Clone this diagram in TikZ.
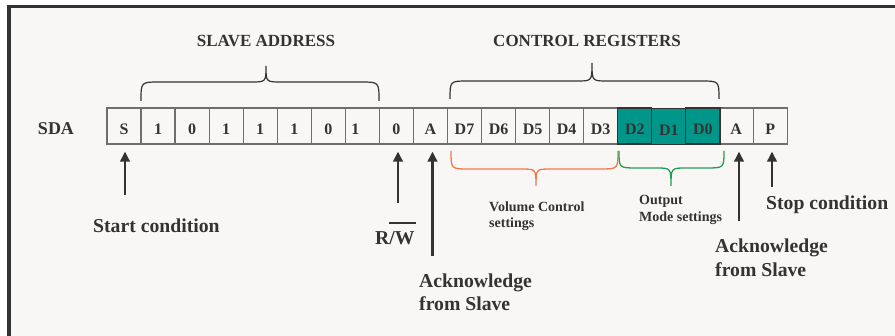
\documentclass[tikz,border=0pt]{standalone}
\usepackage{fontspec}
\setmainfont{Liberation Serif}
\usetikzlibrary{arrows.meta}

\definecolor{ink}{HTML}{333333}
\definecolor{paper}{HTML}{F8F7F5}
\definecolor{cellline}{HTML}{6E6E6E}
\definecolor{regteal}{HTML}{00968A}
\definecolor{volorange}{HTML}{F07A4A}
\definecolor{modegreen}{HTML}{1EA052}

% curly brace: style, x-left, x-right, x-tip, y-ends, y-flat, y-tip
\newcommand\curlybrace[7]{%
  \draw[#1] (#2,#5) .. controls (#2,#6) .. ({#2+18},#6) -- ({#4-15},#6)
    .. controls (#4,#6) .. (#4,#7) .. controls (#4,#6) .. ({#4+15},#6)
    -- ({#3-18},#6) .. controls (#3,#6) .. (#3,#5);}

\tikzset{
  cell/.style={draw=cellline, line width=1.2pt, minimum width=34.05pt,
    minimum height=36pt, inner sep=0pt, text height=18pt, text depth=0pt,
    text=ink, font=\fontsize{16}{19}\selectfont\bfseries},
  regcell/.style={cell, fill=regteal, draw=ink},
  head/.style={text=ink, inner sep=0pt, anchor=base,
    font=\fontsize{17}{20}\selectfont\bfseries},
  biglabel/.style={text=ink, inner sep=0pt, anchor=base west, align=left,
    font=\fontsize{19.7}{23.5}\selectfont\bfseries},
  smalllabel/.style={text=ink, inner sep=0pt, anchor=base west, align=left,
    font=\fontsize{14}{16}\selectfont\bfseries},
  uparrow/.style={draw=ink, line width=2.3pt,
    -{Triangle[width=9.5pt,length=10pt]}, shorten >=7pt},
  bracestyle/.style={draw=ink, line width=1.2pt},
}

\begin{document}
\begin{tikzpicture}[x=1pt,y=-1pt]
\useasboundingbox (0,0) rectangle (895,336);
\fill[white] (0,0) rectangle (895,336);
\fill[paper] (9,6.5) rectangle (895,336);
\draw[ink, line width=3.5pt] (9,336) -- (9,6.5) -- (895,6.5);

% frame of the SDA bit sequence
\node[cell] (cS)  at (124.0,126) {S};
\node[cell] (a1)  at (158.1,126) {1};
\node[cell] (a2)  at (192.1,126) {0};
\node[cell] (a3)  at (226.2,126) {1};
\node[cell] (a4)  at (260.2,126) {1};
\node[cell] (a5)  at (294.3,126) {1};
\node[cell] (a6)  at (328.3,126) {0};
\node[cell] (a7)  at (362.4,126) {1\kern14pt};
\node[cell] (cRW) at (396.4,126) {0};
\node[cell] (cA1) at (430.5,126) {A};
\node[cell] (d7)  at (464.5,126) {D7};
\node[cell] (d6)  at (498.6,126) {D6};
\node[cell] (d5)  at (532.6,126) {D5};
\node[cell] (d4)  at (566.7,126) {D4};
\node[cell] (d3)  at (600.7,126) {D3};
\node[cell] (cA2) at (736.2,126) {A};
\node[cell] (cP)  at (770.3,126) {P};
\node[regcell] (d2) at (634.8,126) {D2};
\node[regcell] (d0) at (702.9,126) {D0};
\node[regcell, text height=17.2pt] (d1) at (668.8,126.8) {D1};

\node[head, font=\fontsize{18}{20}\selectfont\bfseries] (sda) at (56,135) {SDA};

% group headings and braces above the sequence
\node[head] (slave) at (266,47) {SLAVE ADDRESS};
\node[head] (ctrl)  at (587,47) {CONTROL REGISTERS};
\curlybrace{bracestyle}{141}{379}{266}{101}{82}{66}
\curlybrace{bracestyle}{450}{719}{592}{99}{81}{63}

% sub-field braces below the control byte
\curlybrace{draw=volorange, line width=1.3pt}{451}{618}{536}{151}{169}{186}
\curlybrace{draw=modegreen, line width=1.3pt}{619}{724}{671}{151}{168}{186}
% (base anchor of a multi-line node sits on its last line)
\node[smalllabel] (vol) at (489,227.5) {Volume Control\\settings};
\node[smalllabel, font=\fontsize{14}{16.5}\selectfont\bfseries] (mode) at (639,221.5) {Output\\Mode settings};

% condition labels and their arrows
\node[biglabel] (start) at (93,233) {Start condition};
\node[biglabel] (rw) at (375,245) {R\rlap{\rule[21pt]{27pt}{2pt}}/W};
\node[biglabel] (ack1) at (419,311) {Acknowledge\\from Slave};
\node[biglabel] (ack2) at (715,276.5) {Acknowledge\\from Slave};
\node[biglabel] (stop) at (766,210) {Stop condition};

\coordinate (tS)  at (125,195);
\coordinate (tRW) at (398,203);
\coordinate (tA1) at (432.5,256);
\coordinate (tA2) at (739,221);
\coordinate (tP)  at (772,187);
\draw[uparrow] (tS)  -- (tS  |- cS.south);
\draw[uparrow] (tRW) -- (tRW |- cRW.south);
\draw[uparrow] (tA1) -- (tA1 |- cA1.south);
\draw[uparrow] (tA2) -- (tA2 |- cA2.south);
\draw[uparrow] (tP)  -- (tP  |- cP.south);
\end{tikzpicture}
\end{document}
